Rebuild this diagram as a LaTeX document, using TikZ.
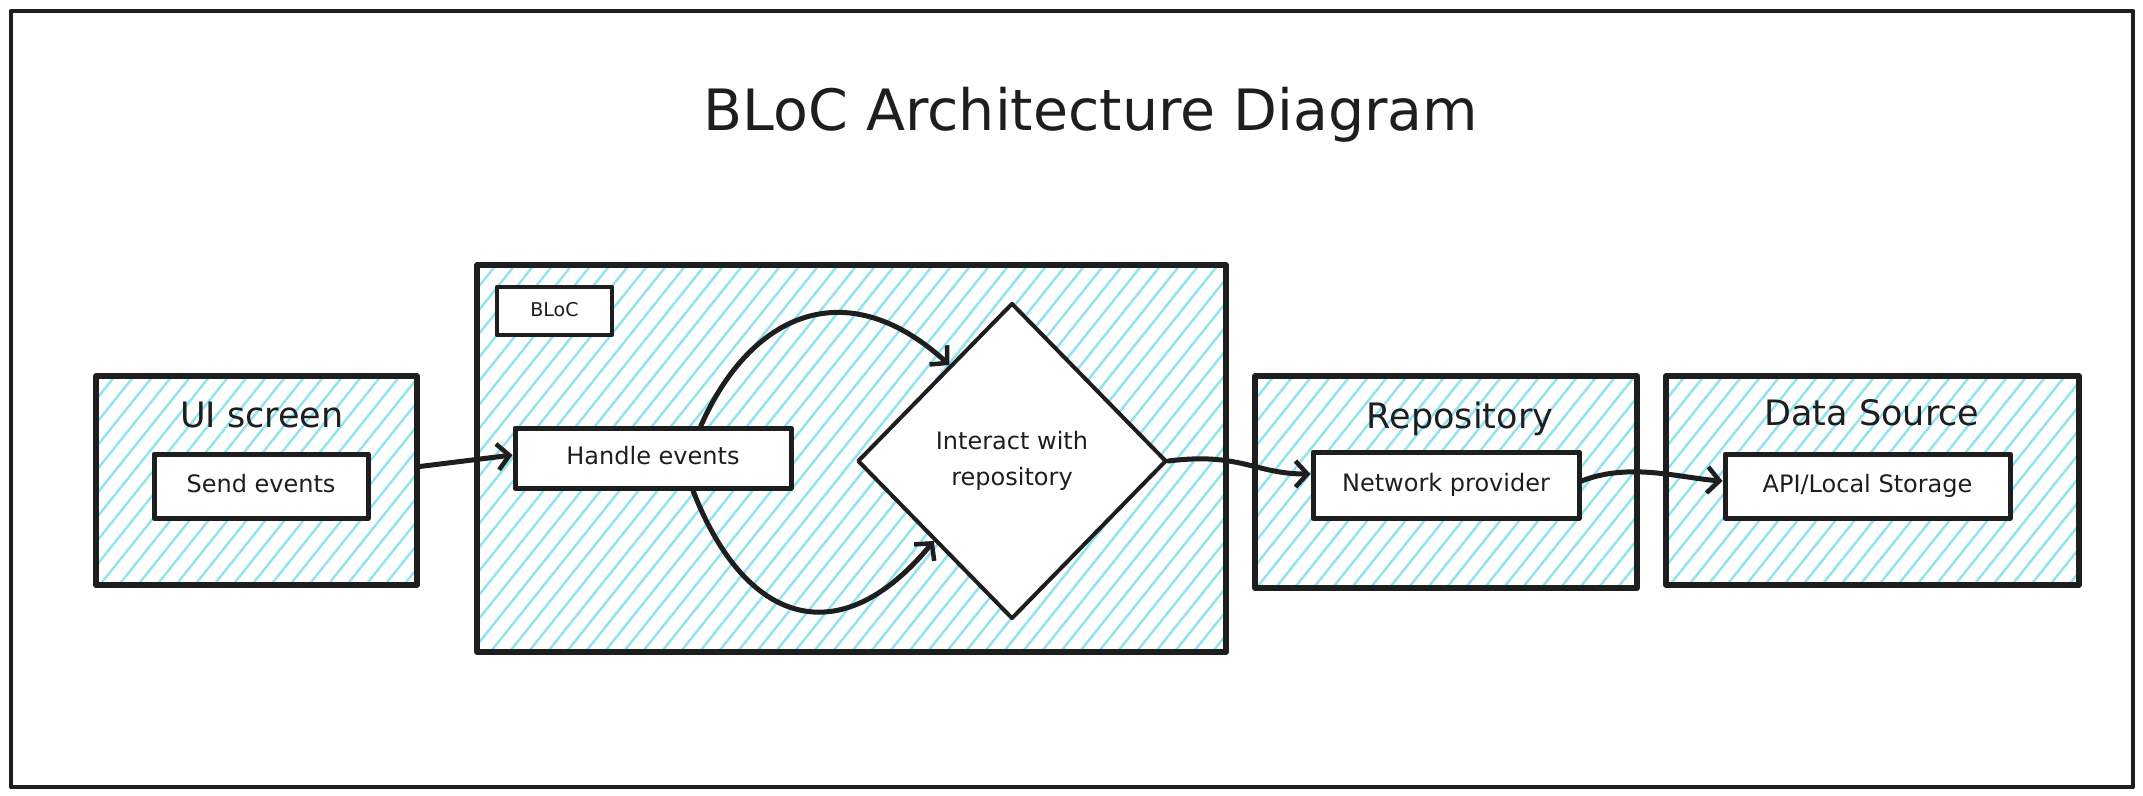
\documentclass[tikz,border=0pt]{standalone}
\usepackage{fontspec}
\setmainfont{DejaVu Sans}
\usetikzlibrary{arrows.meta,shapes.geometric,calc}
\definecolor{ink}{HTML}{1E1E1E}
\definecolor{hatchc}{HTML}{8FE4F0}
\newcommand\hatchrect[4]{%
  \begin{scope}
    \clip (#1,#2) rectangle (#3,#4);
    \pgfmathsetmacro\hd{(#4-#2)*0.8}
    \pgfmathsetmacro\xs{#1-\hd}
    \pgfmathsetmacro\xn{\xs+19}
    \foreach \xx in {\xs,\xn,...,#3} \draw[draw=hatchc, line width=2.4pt] (\xx,#4) -- ({\xx+\hd},#2);
  \end{scope}}
\begin{document}
\begin{tikzpicture}[x=1pt,y=-1pt, line cap=round, line join=round,
  group/.style={draw=ink, line width=5.5pt, inner sep=0pt},
  inner/.style={draw=ink, fill=white, line width=5pt, inner sep=0pt, text=ink,
    font=\fontsize{24}{30}\selectfont, text height=17pt, text depth=5pt},
  heading/.style={font=\fontsize{35}{40}\selectfont, text=ink, anchor=base},
  arr/.style={draw=ink, line width=5pt, -{Straight Barb[length=12pt,width=26pt,line width=4.5pt]}}]
\useasboundingbox (0,0) rectangle (2143,795);
\fill[white] (0,0) rectangle (2143,795);

% outer frame
\node[draw=ink, line width=4pt, minimum width=2122pt, minimum height=776pt, inner sep=0pt] (frame) at (1072,399) {};
\node[font=\fontsize{57}{64}\selectfont, text=ink, anchor=base] (title) at (1091,130) {BLoC Architecture Diagram};

% hatching
\hatchrect{96}{376}{417}{585}
\hatchrect{477}{265}{1226}{652}
\hatchrect{1255}{376}{1637}{588}
\hatchrect{1666}{376}{2079}{585}

% group boxes
\node[group, minimum width=321pt, minimum height=209pt] (ui) at (256.5,480.5) {};
\node[group, minimum width=749pt, minimum height=387pt] (bloc) at (851.5,458.5) {};
\node[group, minimum width=382pt, minimum height=212pt] (repo) at (1446,482) {};
\node[group, minimum width=413pt, minimum height=209pt] (ds) at (1872.5,480.5) {};

\node[heading] (uit) at (262,427) {UI screen};
\node[heading] (repot) at (1460,428) {Repository};
\node[heading] (dst) at (1872,425) {Data Source};

% inner nodes
\node[inner, minimum width=214pt, minimum height=64pt] (send) at (261,486) {Send events};
\node[inner, line width=4.5pt, minimum width=115pt, minimum height=48pt, font=\fontsize{19}{22}\selectfont, text height=14pt, text depth=3pt] (bloclabel) at (554.5,311) {BLoC};
\node[inner, minimum width=276pt, minimum height=60pt] (handle) at (653,458) {Handle events};
\node[diamond, draw=ink, fill=white, line width=4pt, minimum width=309pt, minimum height=316pt, inner sep=0pt, align=center, text=ink, font=\fontsize{24}{36}\selectfont] (dia) at (1012,461) {Interact with\\repository};
\node[inner, minimum width=266pt, minimum height=66pt] (net) at (1446,485) {Network provider};
\node[inner, minimum width=285pt, minimum height=64pt] (api) at (1867.5,486) {API/Local Storage};

% connectors
\draw[arr] ([yshift=14pt]ui.east) -- ([yshift=3pt]handle.west);
\draw[arr] ([xshift=48pt]handle.north) .. controls (750,315) and (845,270) .. ($(dia.west)!0.6!(dia.north)$);
\draw[arr] ([xshift=40pt]handle.south) .. controls (745,625) and (840,655) .. (dia.south west);
\draw[arr] (dia.east) .. controls (1240,452) and (1255,474) .. ([yshift=11pt]net.west);
\draw[arr] ([yshift=4pt]net.east) .. controls (1630,462) and (1680,478) .. ([yshift=5pt]api.west);
\end{tikzpicture}
\end{document}
